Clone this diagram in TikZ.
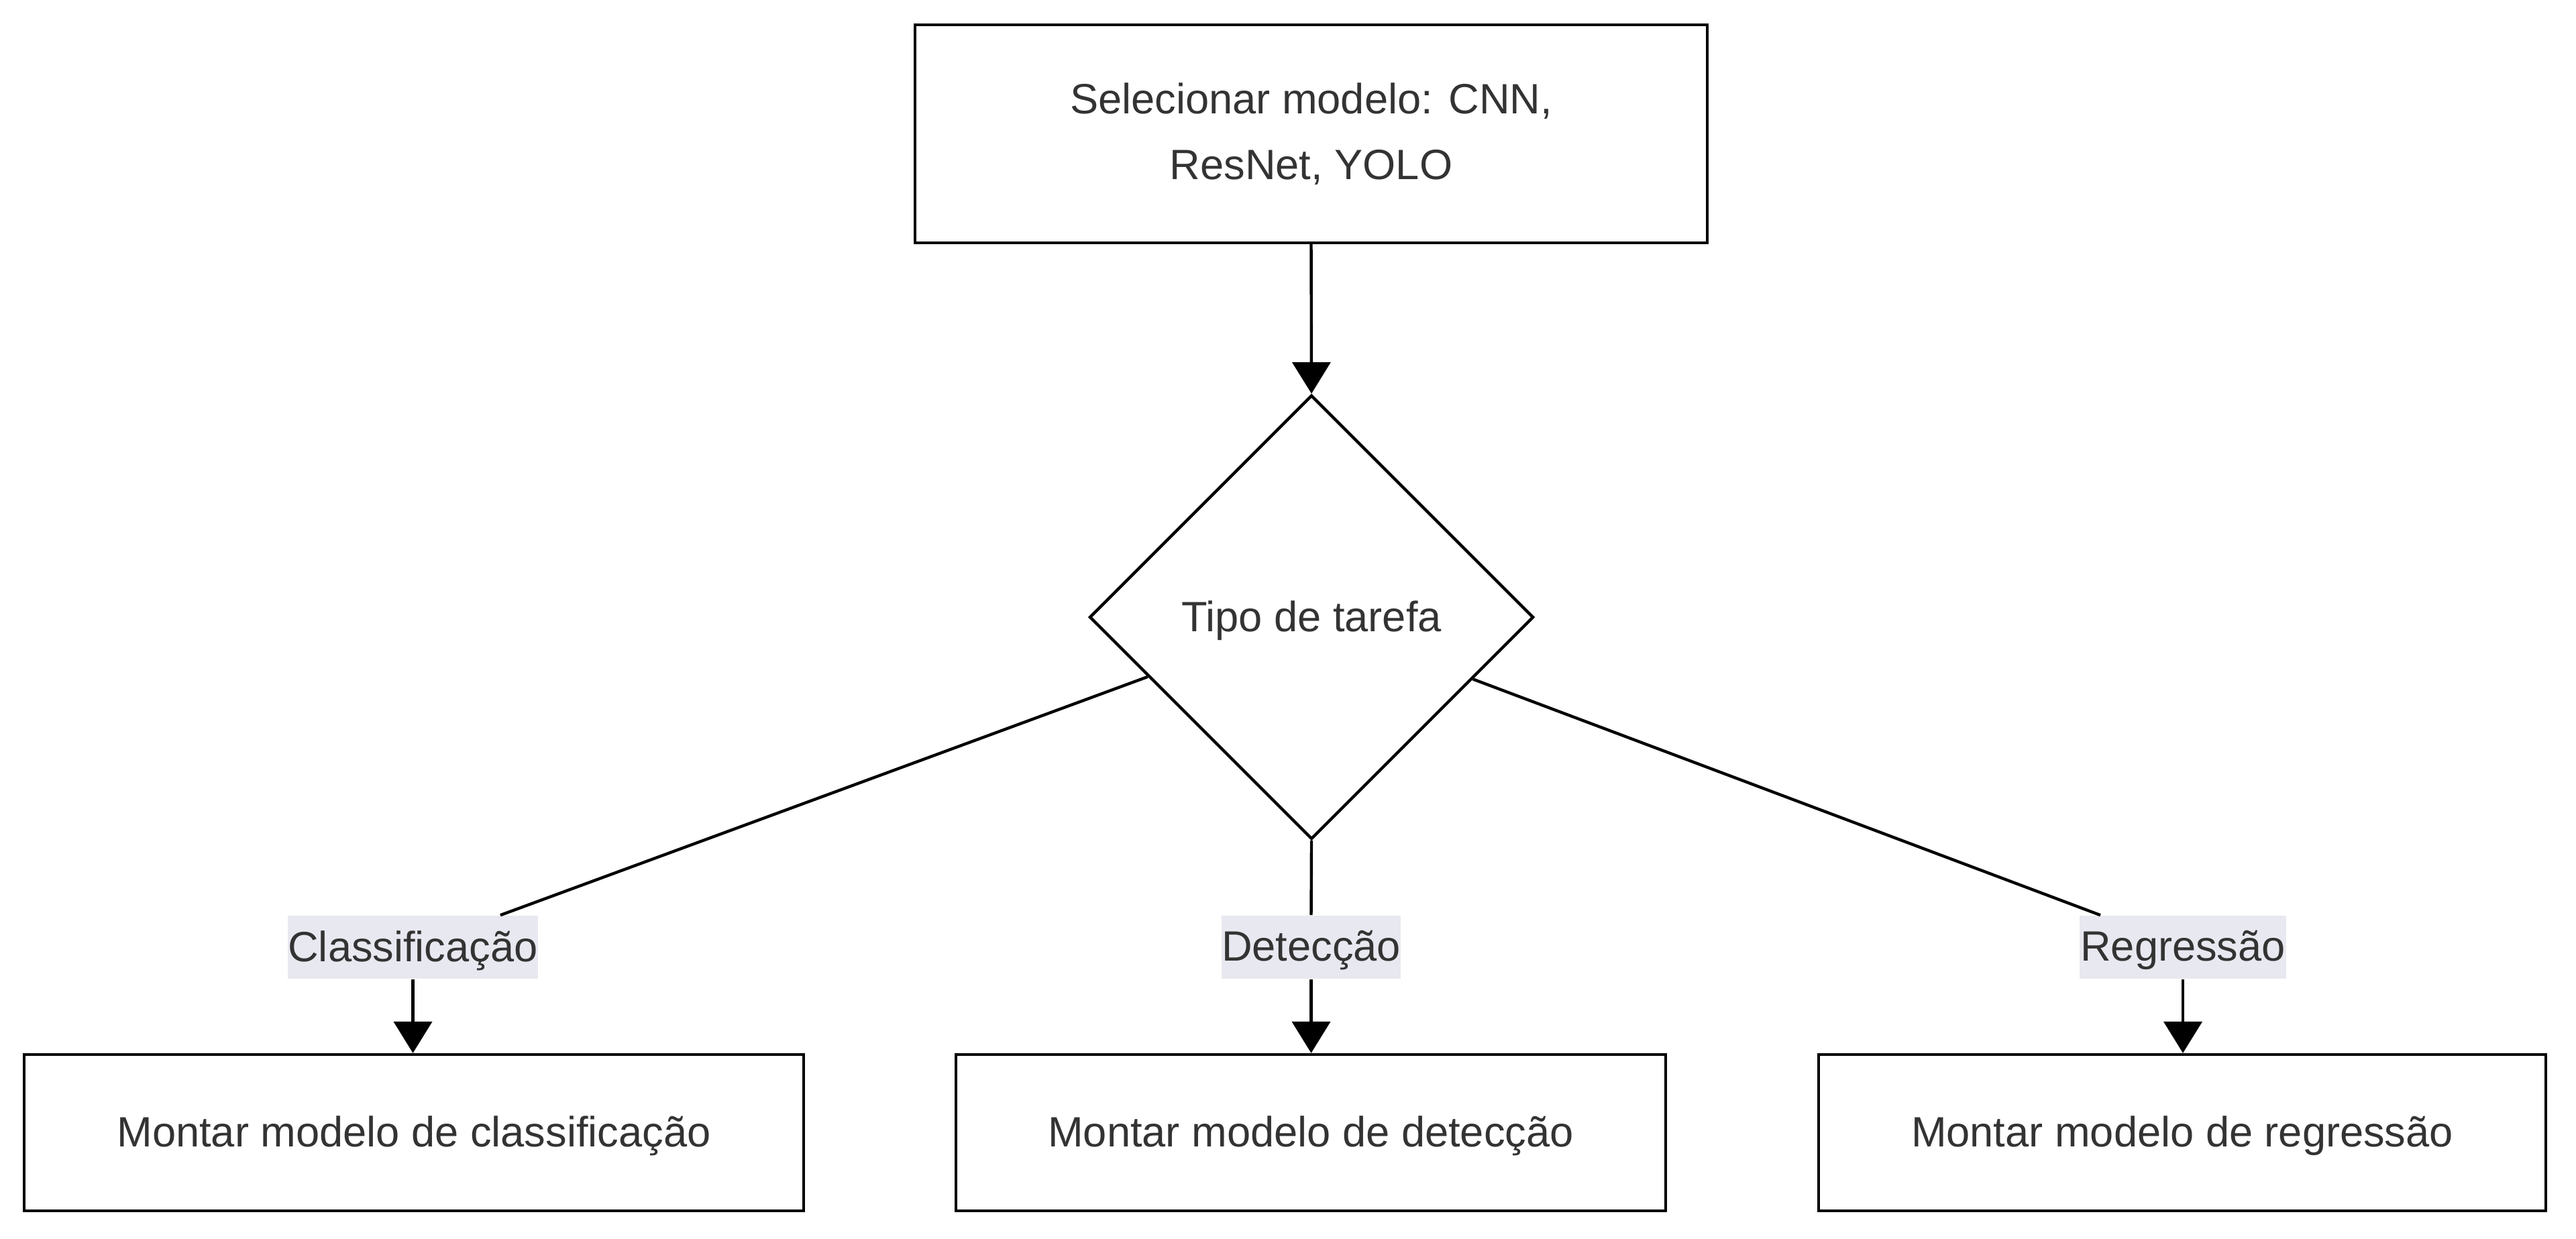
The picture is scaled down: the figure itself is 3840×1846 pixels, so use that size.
\documentclass[tikz,border=0pt]{standalone}
\usepackage{fontspec}
\setmainfont{Liberation Sans}
\usetikzlibrary{shapes.geometric,arrows.meta}
\definecolor{txt}{HTML}{333333}
\definecolor{lblbg}{HTML}{E8E8F0}
\newcommand{\lowtxt}[1]{\raisebox{-1.2pt}[\height][\depth]{#1}}
\begin{document}
\begin{tikzpicture}[x=0.25pt,y=-0.25pt,
  every node/.style={font=\fontsize{15.8pt}{24.5pt}\selectfont, text=txt},
  procbox/.style={draw=black, line width=1.1pt, fill=white, rectangle, inner sep=0pt, align=center},
  decbox/.style={draw=black, line width=1.1pt, fill=white, diamond, aspect=1, minimum width=165.5pt, minimum height=165.5pt, inner sep=0pt},
  lbl/.style={fill=lblbg, inner sep=0pt, minimum height=23.5pt},
  edge/.style={draw=black, line width=1.1pt},
  arr/.style={edge, -{Triangle[length=11.75pt,width=14.25pt]}}
]
\useasboundingbox (0,0) rectangle (3840,1846);

\node[procbox, minimum width=295.25pt, minimum height=81.25pt] (top) at (1954.5,199.5)
  {Selecionar modelo: CNN,\\ResNet, YOLO};
\node[decbox] (dec) at (1955,920) {\lowtxt{Tipo de tarefa}};

\node[lbl, minimum width=92.75pt] (l1) at (615.5,1412) {\lowtxt{Classificação}};
\node[lbl, minimum width=66.75pt] (l2) at (1954.5,1412) {\lowtxt{Detecção}};
\node[lbl, minimum width=77pt] (l3) at (3254,1412) {\lowtxt{Regressão}};

\node[procbox, minimum width=290.5pt, minimum height=58.25pt] (m1) at (617,1688.5) {\lowtxt{Montar modelo de classificação}};
\node[procbox, minimum width=264.5pt, minimum height=58.25pt] (m2) at (1954,1688.5) {\lowtxt{Montar modelo de detecção}};
\node[procbox, minimum width=271pt, minimum height=58.25pt] (m3) at (3253,1688.5) {\lowtxt{Montar modelo de regressão}};

\draw[arr] (top.south) -- (dec.north);

\draw[edge] (dec.200.5) -- ([xshift=32.6pt]l1.north);
\draw[arr] (l1.south) -- (l1.south |- m1.north);

\draw[edge] (dec.south) -- (l2.north);
\draw[arr] (l2.south) -- (l2.south |- m2.north);

\draw[edge] (dec.339.4) -- ([xshift=-30.75pt]l3.north);
\draw[arr] (l3.south) -- (l3.south |- m3.north);
\end{tikzpicture}
\end{document}
